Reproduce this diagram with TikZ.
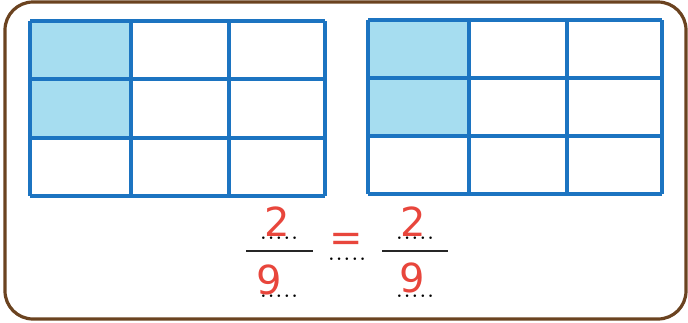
\documentclass[tikz,border=0pt]{standalone}
\usepackage{fontspec}
\newfontfamily\handfont{DejaVu Sans}
\definecolor{gridblue}{HTML}{1C74C1}
\definecolor{cellfill}{HTML}{A6DDF0}
\definecolor{framebrown}{HTML}{6B4320}
\definecolor{penred}{HTML}{E8463C}
\newcommand\blankdots{{\fontsize{18}{18}\selectfont\bfseries .\hspace{2.2pt}.\hspace{2.2pt}.\hspace{2.2pt}.\hspace{2.2pt}.}}
\tikzset{
  gridline/.style={draw=gridblue, line width=3.2pt},
  shaded/.style={fill=cellfill},
  frame/.style={draw=framebrown, line width=3.2pt, rounded corners=28pt},
  fracbar/.style={draw=black!85, line width=1.6pt},
  digit/.style={text=penred, font=\handfont\fontsize{40}{40}\selectfont, inner sep=0pt},
  dots/.style={inner sep=0pt, font=\normalfont}
}
\begin{document}
\begin{tikzpicture}[x=1pt,y=-1pt]
\useasboundingbox (0,0) rectangle (688,322);
\draw[frame] (5,2) rectangle (686,319);
% left grid
\fill[shaded] (30,21) rectangle (131,138);
\foreach \x in {30,131,229,325} \draw[gridline] (\x,21) -- (\x,196);
\foreach \y in {21,79,138,196} \draw[gridline] (30,\y) -- (325,\y);
% right grid
\fill[shaded] (368,20) rectangle (469,136);
\foreach \x in {368,469,567,662} \draw[gridline] (\x,20) -- (\x,194);
\foreach \y in {20,78,136,194} \draw[gridline] (368,\y) -- (662,\y);
% fractions
\node[coordinate] (lb1) at (246,251) {};
\node[coordinate] (lb2) at (313,251) {};
\draw[fracbar] (lb1) -- (lb2);
\node[coordinate] (rb1) at (382,251) {};
\node[coordinate] (rb2) at (448,251) {};
\draw[fracbar] (rb1) -- (rb2);
\node[digit] (ln) at (277,222) {2};
\node[dots,anchor=base] (lnd) at (279,239) {\blankdots};
\node[digit] (ld) at (269,280) {9};
\node[dots,anchor=base] (ldd) at (279,297) {\blankdots};
\node[digit] (eq) at (346,242) {=};
\node[dots,anchor=base] (eqd) at (347,260) {\blankdots};
\node[digit] (rn) at (413,222) {2};
\node[dots,anchor=base] (rnd) at (415,239) {\blankdots};
\node[digit] (rd) at (412,278) {9};
\node[dots,anchor=base] (rdd) at (415,297) {\blankdots};
\end{tikzpicture}
\end{document}
